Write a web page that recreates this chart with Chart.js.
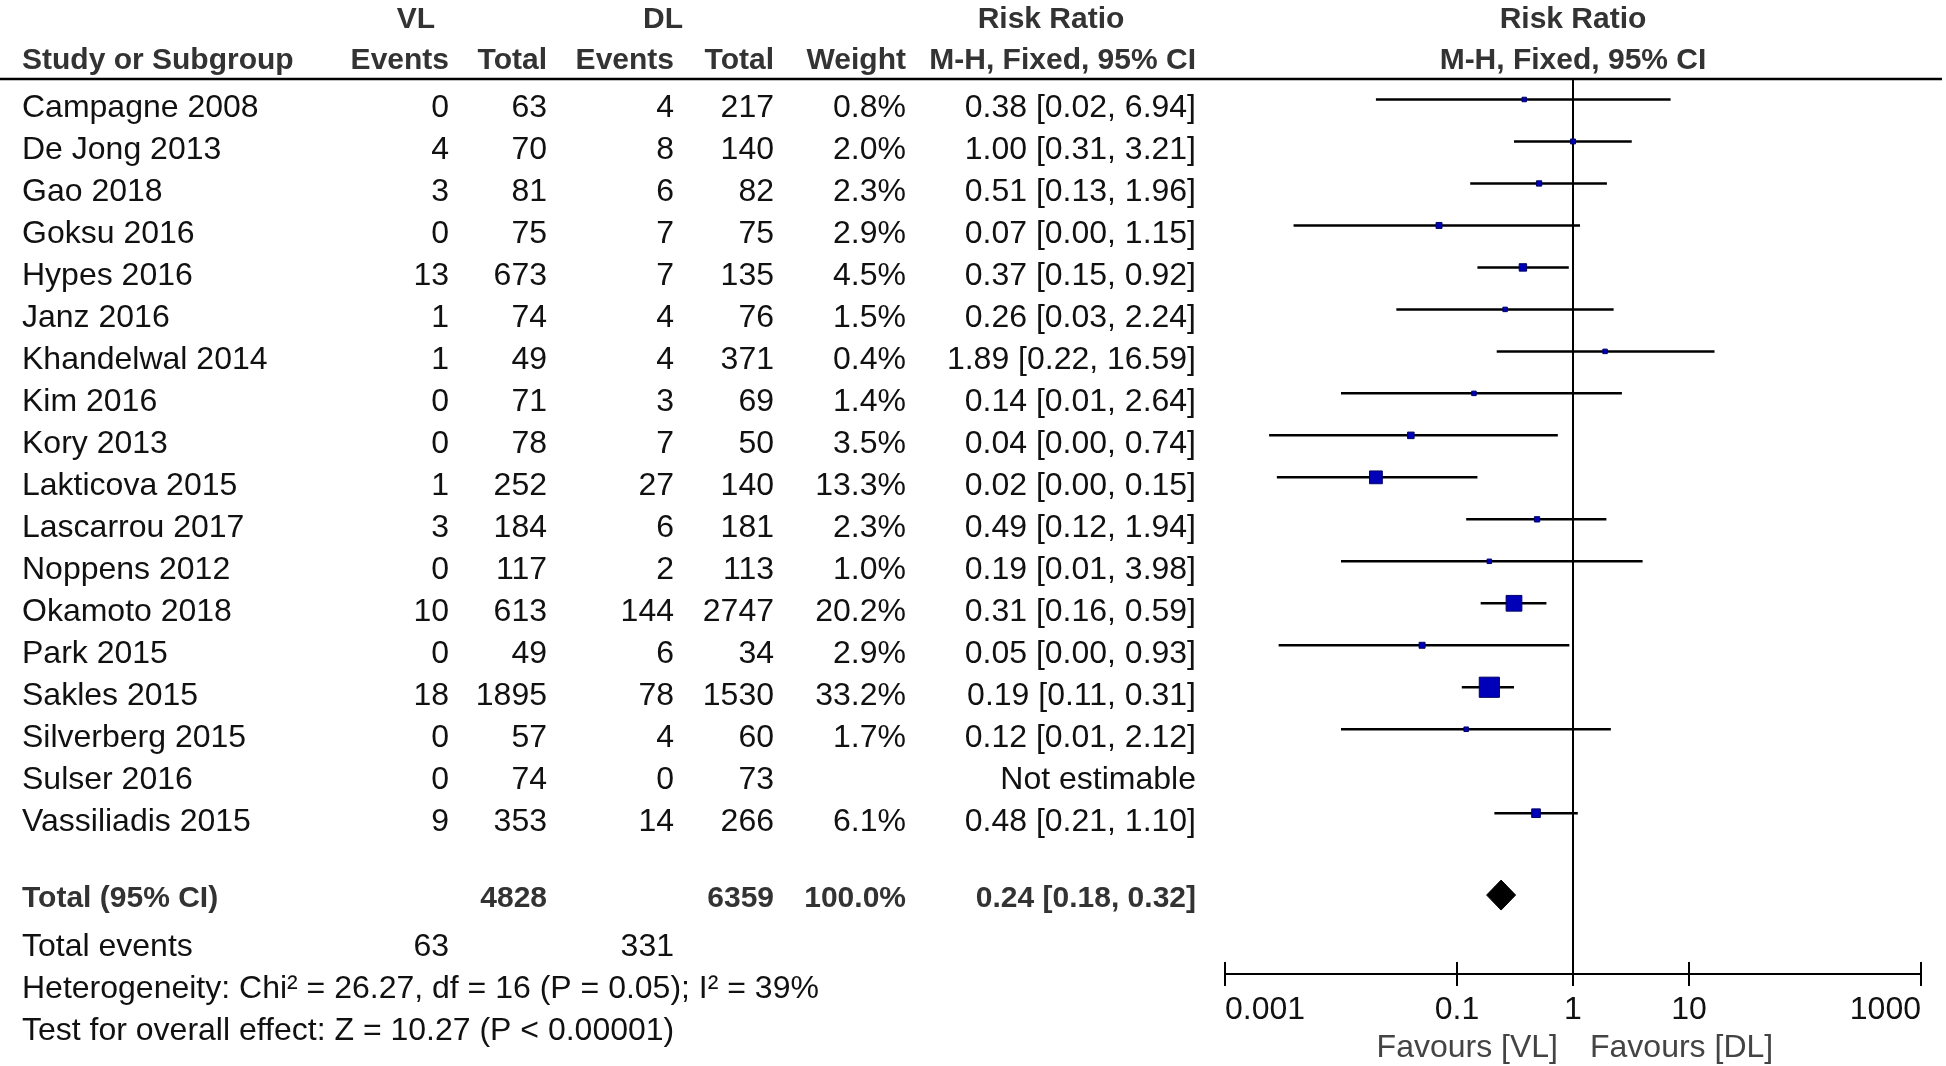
<!DOCTYPE html>
<html>
<head>
<meta charset="utf-8">
<title>Forest plot - VL vs DL</title>
<script src="https://cdn.jsdelivr.net/npm/chart.js@4.4.1/dist/chart.umd.min.js"></script>
<style>
    html, body { margin: 0; padding: 0; background: #fff; }
    canvas { display: block; }
</style>
</head>
<body>
<canvas id="forest" width="1946" height="1066"></canvas>
<script>
// study rows
var studies = ['Campagne 2008', 'De Jong 2013', 'Gao 2018', 'Goksu 2016', 'Hypes 2016', 'Janz 2016',
    'Khandelwal 2014', 'Kim 2016', 'Kory 2013', 'Lakticova 2015', 'Lascarrou 2017', 'Noppens 2012',
    'Okamoto 2018', 'Park 2015', 'Sakles 2015', 'Silverberg 2015', 'Sulser 2016', 'Vassiliadis 2015'];
var vlEvents = [0, 4, 3, 0, 13, 1, 1, 0, 0, 1, 3, 0, 10, 0, 18, 0, 0, 9];
var vlTotal = [63, 70, 81, 75, 673, 74, 49, 71, 78, 252, 184, 117, 613, 49, 1895, 57, 74, 353];
var dlEvents = [4, 8, 6, 7, 7, 4, 4, 3, 7, 27, 6, 2, 144, 6, 78, 4, 0, 14];
var dlTotal = [217, 140, 82, 75, 135, 76, 371, 69, 50, 140, 181, 113, 2747, 34, 1530, 60, 73, 266];
var weights = [0.8, 2.0, 2.3, 2.9, 4.5, 1.5, 0.4, 1.4, 3.5, 13.3, 2.3, 1.0, 20.2, 2.9, 33.2, 1.7, null, 6.1];
var riskRatio = [0.38, 1.00, 0.51, 0.07, 0.37, 0.26, 1.89, 0.14, 0.04, 0.02, 0.49, 0.19, 0.31, 0.05, 0.19, 0.12, null, 0.48];
var ciLow = [0.02, 0.31, 0.13, 0.0039, 0.15, 0.03, 0.22, 0.01, 0.0024, 0.0028, 0.12, 0.01, 0.16, 0.0029, 0.11, 0.01, null, 0.21];
var ciHigh = [6.94, 3.21, 1.96, 1.15, 0.92, 2.24, 16.59, 2.64, 0.74, 0.15, 1.94, 3.98, 0.59, 0.93, 0.31, 2.12, null, 1.10];

// pooled result: estimate, low, high
var totalRR = [0.24, 0.18, 0.32];
var totalN = [4828, 6359];
var totalEvents = [63, 331];

// axis
var tickValues = [0.001, 0.1, 1, 10, 1000];
var tickLabels = ['0.001', '0.1', '1', '10', '1000'];

var yMin = -0.488, yMax = 20.83;   // row units
var totalRow = 18.95;
var FONT = "'Liberation Sans', Arial, sans-serif";

var datasets = [];

// squares, size from weight
var squares = [];
var squareR = [];
for (var i = 0; i < studies.length; i++) {
    if (riskRatio[i] == null) continue;
    squares.push({ x: riskRatio[i], y: i });
    var side = Math.max(4.5, Math.sqrt(weights[i]) * 3.5);
    squareR.push(side / Math.SQRT2);
}
datasets.push({
    type: 'scatter',
    data: squares,
    pointStyle: 'rect',
    pointRadius: squareR,
    backgroundColor: '#0000b8',
    borderColor: '#000066',
    borderWidth: 1
});

// pooled diamond
var dh = 0.357;
datasets.push({
    type: 'line',
    data: [
        { x: totalRR[1], y: totalRow }, { x: totalRR[0], y: totalRow - dh },
        { x: totalRR[2], y: totalRow }, { x: totalRR[0], y: totalRow + dh },
        { x: totalRR[1], y: totalRow }
    ],
    borderColor: '#000',
    backgroundColor: '#000',
    borderWidth: 1,
    fill: 'shape',
    tension: 0,
    pointRadius: 0
});

// confidence interval lines
for (var j = 0; j < studies.length; j++) {
    if (ciLow[j] == null) continue;
    datasets.push({
        type: 'line',
        data: [{ x: ciLow[j], y: j }, { x: ciHigh[j], y: j }],
        borderColor: '#000',
        borderWidth: 2.5,
        pointRadius: 0,
        fill: false
    });
}

// line of no effect
datasets.push({
    type: 'line',
    data: [{ x: 1, y: yMin }, { x: 1, y: yMax }],
    borderColor: '#000',
    borderWidth: 2,
    pointRadius: 0,
    fill: false
});

function txt(ctx, s, x, y, align, bold, color) {
    ctx.font = (bold ? 'bold 30px ' : '32px ') + FONT;
    ctx.textAlign = align;
    ctx.textBaseline = 'middle';
    ctx.fillStyle = color || '#111';
    ctx.fillText(s, x, y);
}

var tablePlugin = {
    id: 'forestTable',
    beforeDraw: function (chart) {
        var ctx = chart.ctx;
        ctx.save();
        ctx.fillStyle = '#fff';
        ctx.fillRect(0, 0, chart.width, chart.height);
        ctx.restore();
    },
    afterDraw: function (chart) {
        var ctx = chart.ctx;
        var xs = chart.scales.x;
        var ys = chart.scales.y;
        var hd = '#333';
        // column right edges
        var cVE = 449, cVT = 547, cDE = 674, cDT = 774, cW = 906, cRR = 1196;
        var x1 = xs.getPixelForValue(1);
        var off = 8.5; // text sits a little below the CI lines

        ctx.save();
        // headers
        txt(ctx, 'VL', 416, 20, 'center', true, hd);
        txt(ctx, 'DL', 663, 20, 'center', true, hd);
        txt(ctx, 'Risk Ratio', 1051, 20, 'center', true, hd);
        txt(ctx, 'Risk Ratio', x1, 20, 'center', true, hd);
        txt(ctx, 'Study or Subgroup', 22, 61, 'left', true, hd);
        txt(ctx, 'Events', cVE, 61, 'right', true, hd);
        txt(ctx, 'Total', cVT, 61, 'right', true, hd);
        txt(ctx, 'Events', cDE, 61, 'right', true, hd);
        txt(ctx, 'Total', cDT, 61, 'right', true, hd);
        txt(ctx, 'Weight', cW, 61, 'right', true, hd);
        txt(ctx, 'M-H, Fixed, 95% CI', cRR, 61, 'right', true, hd);
        txt(ctx, 'M-H, Fixed, 95% CI', x1, 61, 'center', true, hd);

        // rule under header
        ctx.strokeStyle = '#000';
        ctx.lineWidth = 2.5;
        ctx.beginPath();
        ctx.moveTo(0, chart.chartArea.top);
        ctx.lineTo(1942, chart.chartArea.top);
        ctx.stroke();

        // study rows
        for (var i = 0; i < studies.length; i++) {
            var y = ys.getPixelForValue(i) + off;
            txt(ctx, studies[i], 22, y, 'left');
            txt(ctx, String(vlEvents[i]), cVE, y, 'right');
            txt(ctx, String(vlTotal[i]), cVT, y, 'right');
            txt(ctx, String(dlEvents[i]), cDE, y, 'right');
            txt(ctx, String(dlTotal[i]), cDT, y, 'right');
            if (weights[i] != null) txt(ctx, weights[i].toFixed(1) + '%', cW, y, 'right');
            var rr = riskRatio[i] == null ? 'Not estimable' :
                riskRatio[i].toFixed(2) + ' [' + ciLow[i].toFixed(2) + ', ' + ciHigh[i].toFixed(2) + ']';
            txt(ctx, rr, cRR, y, 'right');
        }

        // totals
        var ty = ys.getPixelForValue(totalRow) + 4;
        txt(ctx, 'Total (95% CI)', 22, ty, 'left', true, hd);
        txt(ctx, String(totalN[0]), cVT, ty, 'right', true, hd);
        txt(ctx, String(totalN[1]), cDT, ty, 'right', true, hd);
        txt(ctx, '100.0%', cW, ty, 'right', true, hd);
        txt(ctx, totalRR[0].toFixed(2) + ' [' + totalRR[1].toFixed(2) + ', ' + totalRR[2].toFixed(2) + ']', cRR, ty, 'right', true, hd);

        var ey = ys.getPixelForValue(20) + off;
        txt(ctx, 'Total events', 22, ey, 'left');
        txt(ctx, String(totalEvents[0]), cVE, ey, 'right');
        txt(ctx, String(totalEvents[1]), cDE, ey, 'right');
        txt(ctx, 'Heterogeneity: Chi\u00b2 = 26.27, df = 16 (P = 0.05); I\u00b2 = 39%', 22, ys.getPixelForValue(21) + off, 'left');
        txt(ctx, 'Test for overall effect: Z = 10.27 (P < 0.00001)', 22, ys.getPixelForValue(22) + off, 'left');

        // tick marks crossing the axis
        var ay = chart.chartArea.bottom;
        ctx.strokeStyle = '#000';
        ctx.lineWidth = 2;
        tickValues.forEach(function (v) {
            var px = Math.round(xs.getPixelForValue(v));
            ctx.beginPath();
            ctx.moveTo(px, ay - 12);
            ctx.lineTo(px, ay + 12);
            ctx.stroke();
        });

        txt(ctx, 'Favours [VL]', x1 - 15, 1048, 'right', false, '#444');
        txt(ctx, 'Favours [DL]', x1 + 17, 1048, 'left', false, '#444');
        ctx.restore();
    }
};

var ctx = document.getElementById('forest').getContext('2d');
var forestChart = new Chart(ctx, {
    type: 'scatter',
    data: { datasets: datasets },
    options: {
        responsive: false,
        animation: false,
        layout: { padding: { left: 1225, right: 25, top: 79, bottom: 0 } },
        plugins: {
            legend: { display: false },
            tooltip: { enabled: false }
        },
        scales: {
            x: {
                type: 'logarithmic',
                position: 'bottom',
                min: 0.001,
                max: 1000,
                border: { display: true, color: '#000', width: 2 },
                grid: { display: false },
                afterBuildTicks: function (scale) {
                    scale.ticks = tickValues.map(function (v) { return { value: v }; });
                },
                afterFit: function (scale) {
                    scale.height = 92;
                },
                ticks: {
                    align: 'inner',
                    autoSkip: false,
                    maxRotation: 0,
                    padding: 9,
                    color: '#111',
                    font: { family: FONT, size: 32 },
                    callback: function (v) {
                        var k = tickValues.indexOf(v);
                        return k >= 0 ? tickLabels[k] : '';
                    }
                }
            },
            y: {
                type: 'linear',
                reverse: true,
                min: yMin,
                max: yMax,
                display: false
            }
        }
    },
    plugins: [tablePlugin]
});
</script>
</body>
</html>
